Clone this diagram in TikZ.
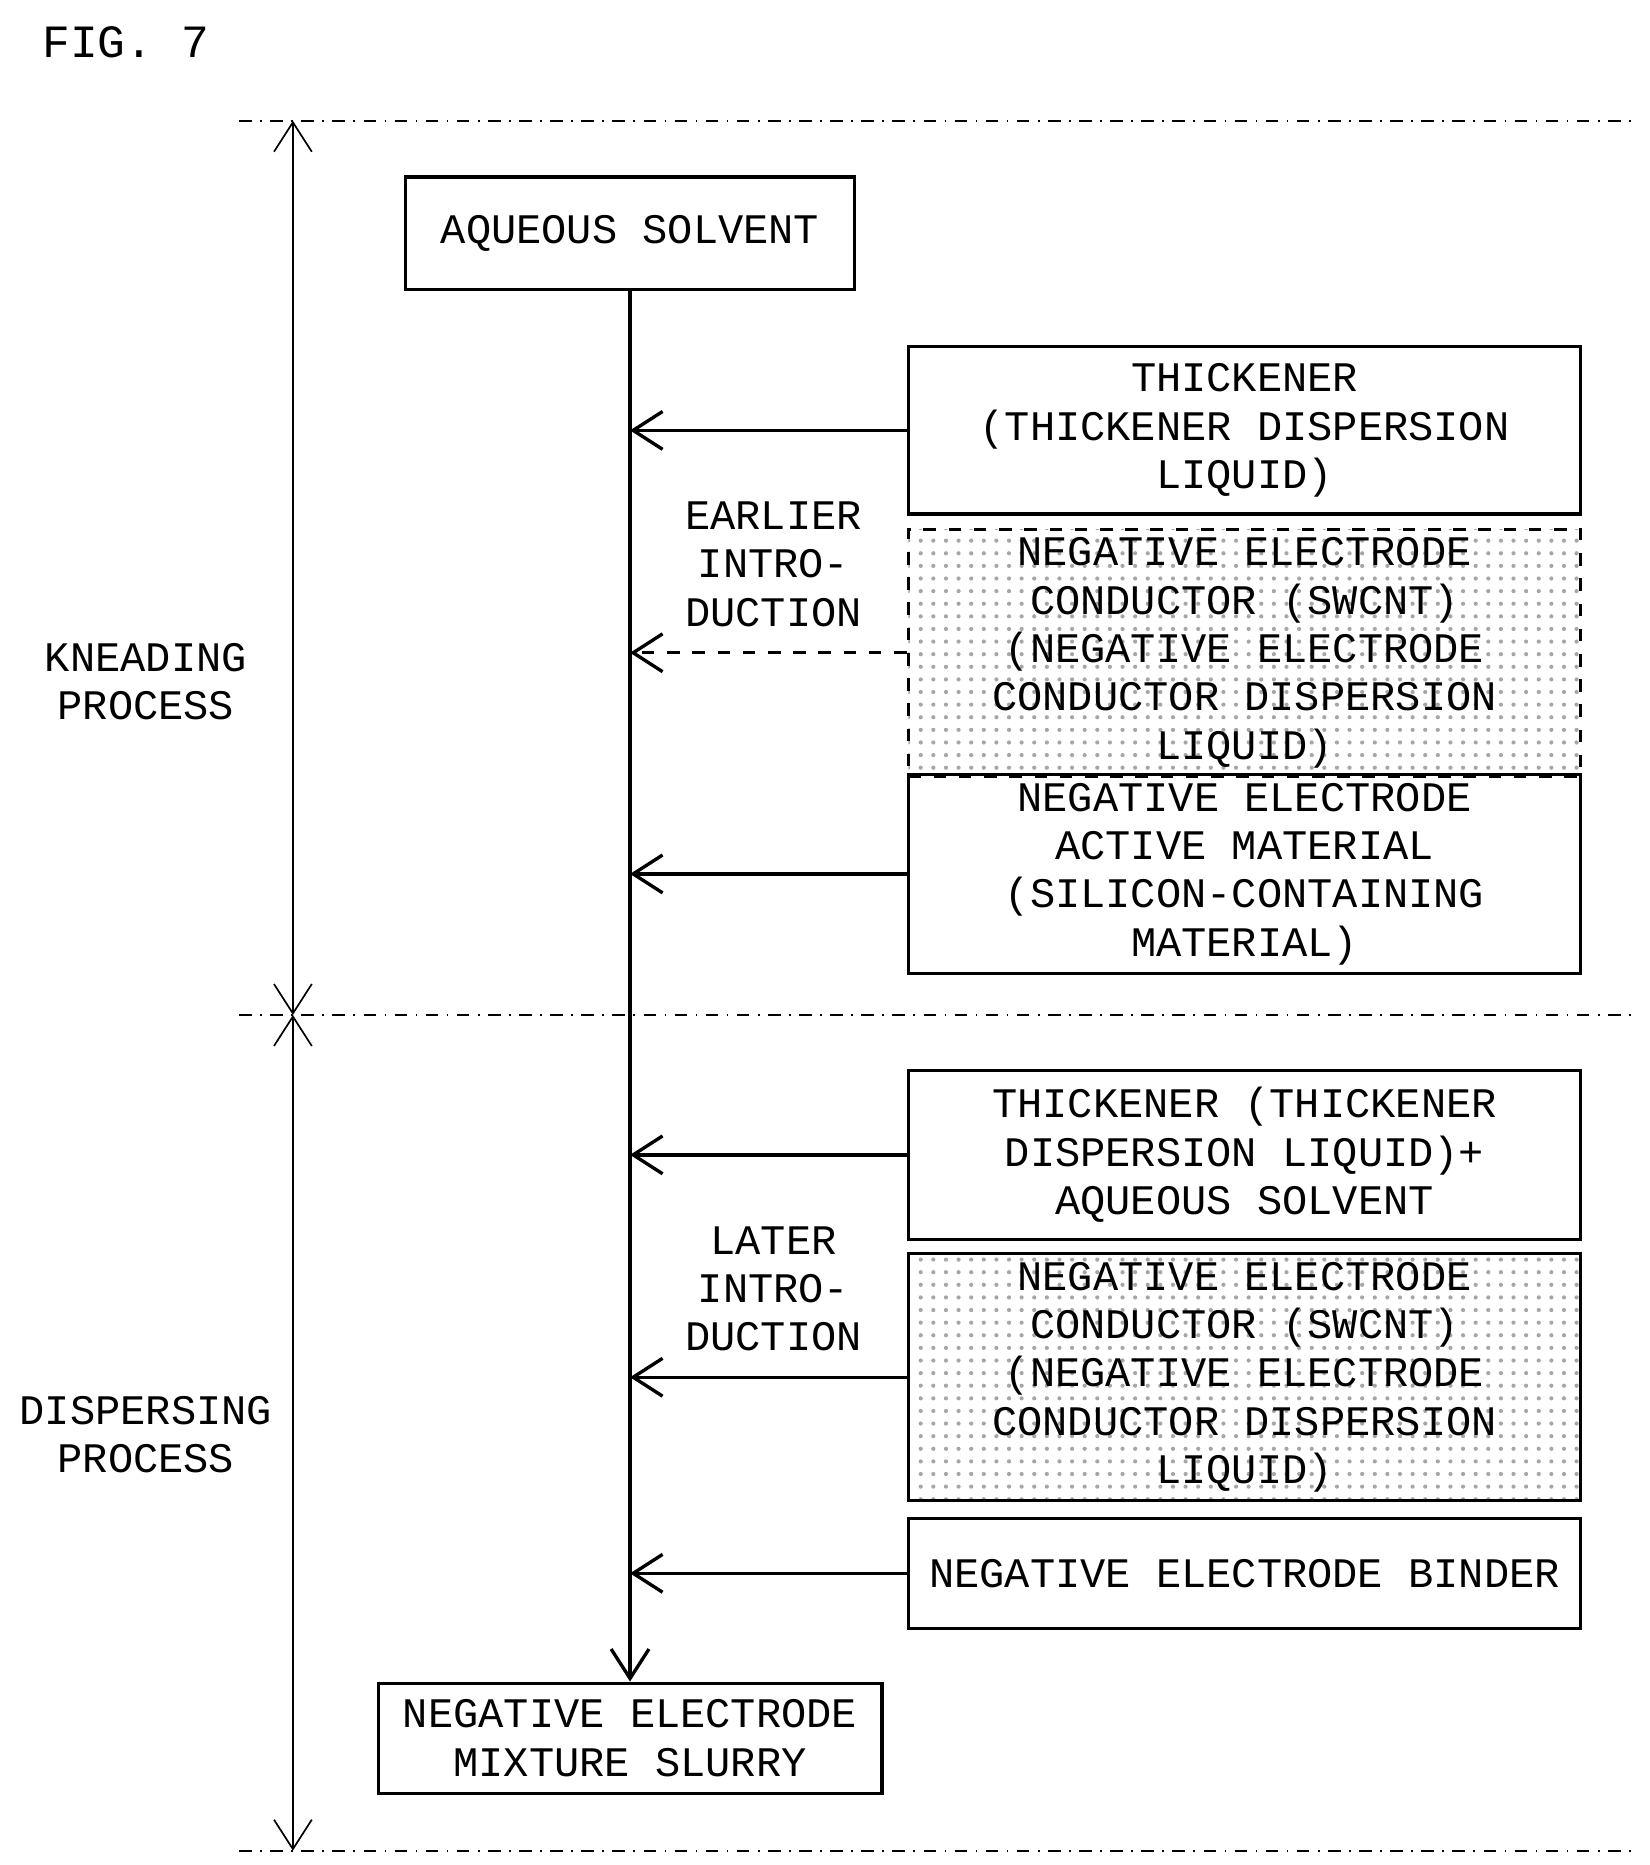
\documentclass[tikz,border=0pt]{standalone}
\usepackage{fontspec}
\setmainfont{Liberation Mono}
\usetikzlibrary{arrows.meta,patterns}

\tikzset{
  box/.style={draw,thick,rectangle,align=center,inner sep=2pt},
  dotbox/.style={box,pattern=dots,pattern color=gray!70},
  arr/.style={-{Straight Barb[length=7pt,width=9pt]},thick},
  sep/.style={dash dot,thin},
}

\begin{document}
\begin{tikzpicture}[x=0.01cm,y=-0.01cm,font=\fontsize{10}{11.5}\selectfont]
  \useasboundingbox (0,0) rectangle (1380,1560);

  % Title
  \node[font=\fontsize{11}{12}\selectfont] (fig) at (105,35) {FIG. 7};

  % Process borders
  \coordinate (t1) at (200,101);   \coordinate (t2) at (1370,101);
  \coordinate (m1) at (200,849);   \coordinate (m2) at (1370,849);
  \coordinate (b1) at (200,1548);  \coordinate (b2) at (1370,1548);
  \draw[sep] (t1) -- (t2);
  \draw[sep] (m1) -- (m2);
  \draw[sep] (b1) -- (b2);
  \draw[{Straight Barb[length=7pt,width=9pt]}-{Straight Barb[length=7pt,width=9pt]},thin] (245,101) -- (245,849);
  \draw[{Straight Barb[length=7pt,width=9pt]}-{Straight Barb[length=7pt,width=9pt]},thin] (245,849) -- (245,1548);
  \node[align=center] (knead) at (122,570) {KNEADING\\PROCESS};
  \node[align=center] (disp) at (122,1200) {DISPERSING\\PROCESS};

  % Main line
  \node[box,minimum width=3.75cm,minimum height=0.94cm] (aq) at (527,195) {AQUEOUS SOLVENT};
  \node[box,minimum width=4.21cm,minimum height=0.92cm] (slurry) at (527,1454) {NEGATIVE ELECTRODE\\MIXTURE SLURRY};
  \draw[arr] (aq) -- (slurry);

  % Materials
  \node[box,minimum width=5.62cm,minimum height=1.40cm] (thick1) at (1041,360)
    {THICKENER\\(THICKENER DISPERSION\\LIQUID)};
  \node[dotbox,dashed,minimum width=5.62cm,minimum height=1.98cm] (cond1) at (1041,546)
    {NEGATIVE ELECTRODE\\CONDUCTOR (SWCNT)\\(NEGATIVE ELECTRODE\\CONDUCTOR DISPERSION\\LIQUID)};
  \node[box,minimum width=5.62cm,minimum height=1.62cm] (act) at (1041,731)
    {NEGATIVE ELECTRODE\\ACTIVE MATERIAL\\(SILICON-CONTAINING\\MATERIAL)};
  \node[box,minimum width=5.62cm,minimum height=1.41cm] (thick2) at (1041,966)
    {THICKENER (THICKENER\\DISPERSION LIQUID)+\\AQUEOUS SOLVENT};
  \node[dotbox,minimum width=5.62cm,minimum height=1.95cm] (cond2) at (1041,1152)
    {NEGATIVE ELECTRODE\\CONDUCTOR (SWCNT)\\(NEGATIVE ELECTRODE\\CONDUCTOR DISPERSION\\LIQUID)};
  \node[box,minimum width=5.62cm,minimum height=0.92cm] (bind) at (1041,1316)
    {NEGATIVE ELECTRODE BINDER};

  % Arrows
  \draw[arr] (thick1.west) -- (thick1.west -| aq.south);
  \draw[arr,dashed] (cond1.west) -- (cond1.west -| aq.south);
  \draw[arr] (act.west) -- (act.west -| aq.south);
  \draw[arr] (thick2.west) -- (thick2.west -| aq.south);
  \draw[arr] (cond2.west) -- (cond2.west -| aq.south);
  \draw[arr] (bind.west) -- (bind.west -| aq.south);

  % Labels
  \node[align=center] (early) at (647,472) {EARLIER\\INTRO-\\DUCTION};
  \node[align=center] (late) at (647,1078) {LATER\\INTRO-\\DUCTION};
\end{tikzpicture}
\end{document}
